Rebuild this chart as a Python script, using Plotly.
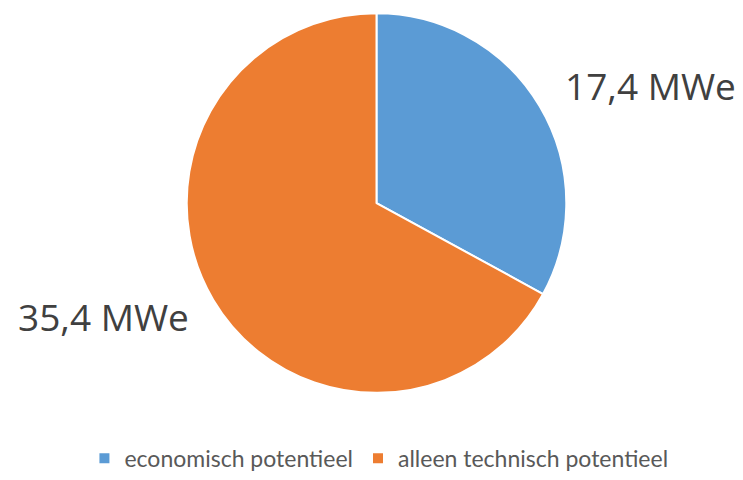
import plotly.graph_objects as go

# Potential capacity split (MWe)
categories = ["economisch potentieel", "alleen technisch potentieel"]
values = [17.4, 35.4]
colors = ["#5B9BD5", "#ED7D31"]

W, H = 743, 480

def fmt(v):
    return f"{v:.1f}".replace(".", ",") + " MWe"

fig = go.Figure(
    go.Pie(
        labels=categories,
        values=values,
        marker=dict(colors=colors, line=dict(color="white", width=2)),
        sort=False,
        direction="clockwise",
        rotation=0,
        textinfo="none",
        hoverinfo="label+value",
        domain=dict(x=[183.5 / W, 569.5 / W], y=[1 - 399.5 / H, 1 - 13.5 / H]),
    )
)

label_pos = [(650, 87), (104, 322)]
for v, (x, y) in zip(values, label_pos):
    fig.add_annotation(
        text=fmt(v), x=x / W, y=1 - y / H, xref="paper", yref="paper",
        showarrow=False, xanchor="center", yanchor="middle",
        font=dict(family="Open Sans", size=37, color="#404040"),
    )

fig.update_layout(
    width=W, height=H,
    margin=dict(l=0, r=0, t=0, b=0),
    paper_bgcolor="white", plot_bgcolor="white",
    showlegend=True,
    legend=dict(
        orientation="h", x=0.51, y=1 - 466 / H, xanchor="center", yanchor="middle",
        font=dict(family="Lato", size=23, color="#595959"),
        itemwidth=30, traceorder="normal",
    ),
)

fig.write_html("out.html")
